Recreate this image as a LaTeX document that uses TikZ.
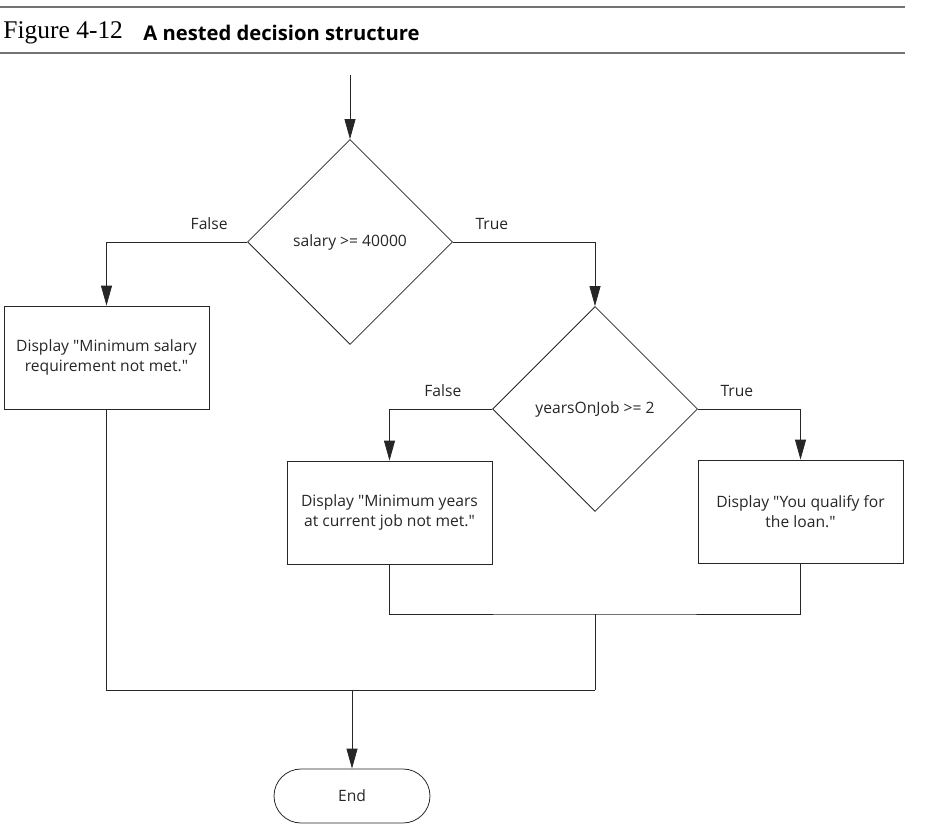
\documentclass[tikz,border=0pt]{standalone}
\usepackage{fontspec}
\setmainfont{Open Sans}
\newfontfamily\figfont{Liberation Serif}
\usepackage{tikz}
\usetikzlibrary{arrows.meta}
\usetikzlibrary{shapes.geometric}

\begin{document}
\begin{tikzpicture}[x=0.02cm,y=-0.02cm,line width=0.45pt,draw=black!85,>={Triangle[length=4mm,width=2.2mm]},
		every node/.style={font=\fontsize{8.9}{11.5}\selectfont,text=black!85},
		decision/.style={diamond,draw,inner sep=0pt,minimum width=4.1cm,minimum height=4.1cm},
		dispbox/.style={rectangle,draw,align=center,minimum width=4.1cm,minimum height=2.06cm},
		endbox/.style={rectangle,draw,rounded corners=0.54cm,minimum width=3.12cm,minimum height=1.08cm}]
			\useasboundingbox (0,0) rectangle (939,837);
			% header
			\draw[black!55,line width=0.9pt] (0,7) -- (905,7);
			\draw[black!55,line width=0.9pt] (0,53) -- (905,53);
			\node[anchor=west,inner sep=0pt,text=black] (fig) at (3,33) {\figfont\fontsize{14.5}{16}\selectfont Figure 4-12};
			\node[anchor=west,inner sep=0pt,text=black] (ttl) at (143,33) {\fontsize{11.5}{14}\selectfont\bfseries A nested decision structure};
			% nodes
			\coordinate (start) at (350,75);
			\node[decision] (d1) at (350,242) {salary >= 40000};
			\node[dispbox] (b1) at (106.5,357.5) {Display \textquotedbl Minimum salary\\requirement not met.\textquotedbl};
			\node[decision] (d2) at (595,409) {yearsOnJob >= 2};
			\node[dispbox] (b2) at (389.5,512.5) {Display \textquotedbl Minimum years\\at current job not met.\textquotedbl};
			\node[dispbox] (b3) at (800.5,511.5) {Display \textquotedbl You qualify for\\the loan.\textquotedbl};
			\node[endbox] (e) at (352,796) {End};
			\coordinate (j1) at (595,614);
			\coordinate (j2) at (595,690);
			% connectors
			\draw[->] (start) -- (d1.north);
			\draw[->] (d1.west) -| node[pos=0.135,above=3.5pt]{False} (b1.north);
			\draw[->] (d1.east) -| node[pos=0.137,above=3.5pt]{True} (d2.north);
			\draw[->] (d2.west) -| node[pos=0.24,above=3.5pt]{False} (b2.north);
			\draw[->] (d2.east) -| node[pos=0.19,above=3.5pt]{True} (b3.north);
			\draw (b2.south) |- (j1) -| (b3.south);
			\draw (j1) -- (j2);
			\draw (b1.south) |- (j2);
			\draw[->] (e.north |- j2) -- (e.north);
		\end{tikzpicture}
\end{document}
